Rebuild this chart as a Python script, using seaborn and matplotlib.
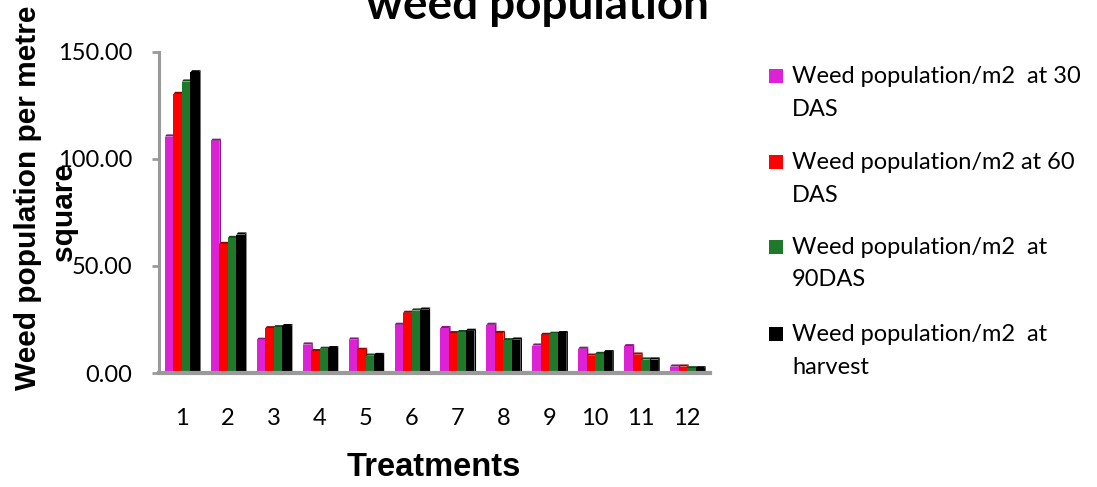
import numpy as np
import pandas as pd
import matplotlib
matplotlib.use("Agg")
import matplotlib.pyplot as plt
import seaborn as sns
from matplotlib.patches import Polygon, Rectangle

# Weed counts per square metre for each treatment at four observation stages
treatments = [str(i) for i in range(1, 13)]
das30 = [110.5, 108.5, 15.5, 13.3, 15.6, 22.5, 21.0, 22.5, 12.8, 11.3, 12.5, 3.0]
das60 = [130.4, 60.3, 20.9, 10.2, 10.8, 28.1, 18.6, 18.7, 17.8, 8.1, 8.6, 3.0]
das90 = [136.2, 63.1, 21.4, 11.3, 8.1, 29.2, 19.1, 15.3, 18.3, 8.9, 6.3, 2.2]
harvest = [140.5, 64.7, 21.9, 11.6, 8.4, 29.6, 19.7, 15.6, 18.6, 9.7, 6.3, 2.2]

series_labels = [
    "Weed population/m2  at 30\nDAS",
    "Weed population/m2 at 60\nDAS",
    "Weed population/m2  at\n90DAS",
    "Weed population/m2  at\nharvest",
]
series_colors = ["#DC22D4", "#FF0000", "#1E7A2A", "#000000"]
y_ticks = [0, 50, 100, 150]

df = pd.DataFrame({
    "Treatment": treatments * 4,
    "Series": np.repeat(series_labels, len(treatments)),
    "Value": das30 + das60 + das90 + harvest,
})

sns.set_theme(style="white")
plt.rcParams["font.family"] = ["Lato", "DejaVu Sans"]
plt.rcParams["text.color"] = "#000000"

fig = plt.figure(figsize=(10.97, 4.87), dpi=100)
ax = fig.add_axes([159 / 1097, 1 - 373 / 487, 551 / 1097, 321 / 487])

sns.barplot(
    data=df, x="Treatment", y="Value", hue="Series",
    order=treatments, hue_order=series_labels,
    palette=series_colors, saturation=1, width=0.74,
    edgecolor="none", linewidth=0, legend=False, ax=ax,
)

# Shaded top caps and side faces give the columns a bevelled look
dx, dy = 0.035, 1.0
for bar in list(ax.patches):
    x0, w, h = bar.get_x(), bar.get_width(), bar.get_height()
    r, g, b, _ = bar.get_facecolor()
    shade = (r * 0.62, g * 0.62, b * 0.62)
    cap = Polygon([(x0, h), (x0 + w, h), (x0 + w + dx, h + dy), (x0 + dx, h + dy)],
                  closed=True, facecolor=shade, edgecolor="none", zorder=0.9)
    side = Polygon([(x0 + w, 0), (x0 + w + dx, dy), (x0 + w + dx, h + dy), (x0 + w, h)],
                   closed=True, facecolor=shade, edgecolor="none", zorder=0.9)
    ax.add_patch(cap)
    ax.add_patch(side)

ax.set_xlim(-0.5, len(treatments) - 0.5)
ax.set_ylim(0, 150)
ax.set_yticks(y_ticks)
ax.set_yticklabels([f"{v:.2f}" for v in y_ticks], fontsize=17, color="#000000")
ax.set_xticklabels(treatments, fontsize=17, color="#000000")
ax.set_xlabel("")
ax.set_ylabel("")

for side_name in ["top", "right"]:
    ax.spines[side_name].set_visible(False)
ax.spines["left"].set_color("#9A9A9A")
ax.spines["left"].set_linewidth(2.2)
ax.spines["bottom"].set_color("#9A9A9A")
ax.spines["bottom"].set_linewidth(3.0)

ax.tick_params(axis="y", which="major", left=True, length=5, width=2, color="#9A9A9A", pad=14)
ax.tick_params(axis="x", which="major", bottom=False, pad=19)

# Title, partly above the top edge of the canvas
fig.text(537 / 1097, 1 - 19 / 487, "weed population", ha="center", va="baseline",
         fontsize=33, fontweight="bold", color="#000000")

# Axis titles (the y title wraps onto two lines)
arial = ["Liberation Sans", "DejaVu Sans"]
fig.text(28 / 1097, 1 - 198 / 487, "Weed population per metre", rotation=90,
         ha="center", va="center", fontsize=21.5, fontweight="bold",
         family=arial, color="#000000")
fig.text(64 / 1097, 1 - 212 / 487, "square", rotation=90,
         ha="center", va="center", fontsize=21.5, fontweight="bold",
         family=arial, color="#000000")
fig.text(434 / 1097, 1 - 468 / 487, "Treatments", ha="center", va="center",
         fontsize=23.5, fontweight="bold", family=arial, color="#000000")

# Legend with square swatches beside two-line labels
baselines = [83, 169, 254, 341]
for label, color, base in zip(series_labels, series_colors, baselines):
    fig.add_artist(Rectangle((769 / 1097, 1 - base / 487), 14 / 1097, 14 / 487,
                             transform=fig.transFigure, facecolor=color, edgecolor="none"))
    for j, line in enumerate(label.split("\n")):
        fig.text(792 / 1097, 1 - (base + j * 32.5) / 487, line, ha="left", va="baseline",
                 fontsize=17, color="#000000")

fig.savefig("out.png", dpi=100)
